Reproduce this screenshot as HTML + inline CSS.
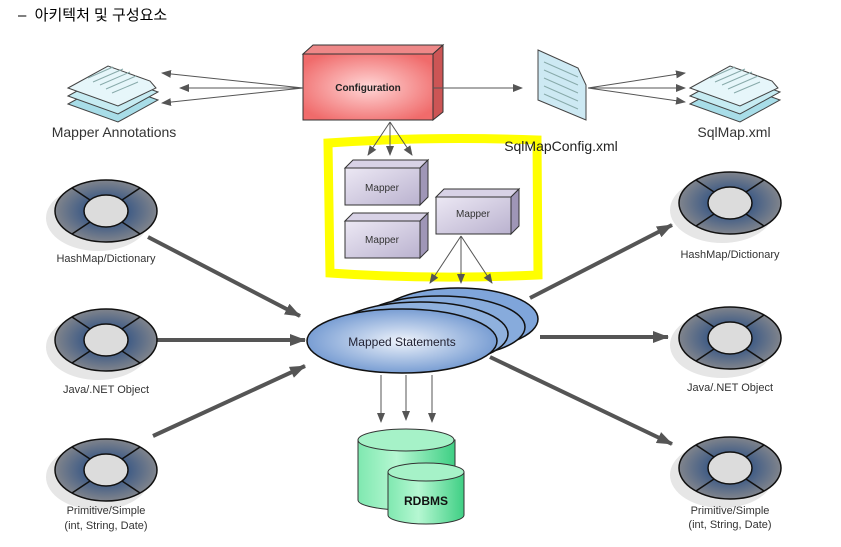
<!DOCTYPE html>
<html><head><meta charset="utf-8"><style>
body{margin:0;background:#fff;width:841px;height:542px;overflow:hidden}
text{font-family:"Liberation Sans","Noto Sans CJK KR",sans-serif}
</style></head><body>
<svg width="841" height="542" viewBox="0 0 841 542" xmlns="http://www.w3.org/2000/svg">
<defs>
<radialGradient id="rg" cx="50%" cy="50%" r="50%"><stop offset="0.4" stop-color="#3d5a85"/><stop offset="1" stop-color="#80848c"/></radialGradient>
<radialGradient id="cfg" cx="50%" cy="50%" r="60%"><stop offset="0" stop-color="#ffd6d6"/><stop offset="1" stop-color="#f06b6b"/></radialGradient>
<radialGradient id="ms" cx="50%" cy="50%" r="55%"><stop offset="0" stop-color="#eef3fb"/><stop offset="1" stop-color="#6d95cf"/></radialGradient>
<linearGradient id="mp" x1="0" y1="0" x2="1" y2="1"><stop offset="0" stop-color="#ece8f4"/><stop offset="1" stop-color="#bab2cf"/></linearGradient>
<linearGradient id="db" x1="0" y1="0" x2="1" y2="0"><stop offset="0" stop-color="#7fe8b0"/><stop offset="0.4" stop-color="#b6f7d2"/><stop offset="1" stop-color="#3fcf84"/></linearGradient>
<marker id="a" markerWidth="10" markerHeight="8" refX="9" refY="4" orient="auto" markerUnits="userSpaceOnUse"><path d="M0,0L10,4L0,8z" fill="#555"/></marker>
<marker id="b" markerWidth="16" markerHeight="12" refX="15" refY="6" orient="auto" markerUnits="userSpaceOnUse"><path d="M0,0L16,6L0,12z" fill="#555"/></marker>
<g id="ring">
<ellipse cx="-8" cy="7" rx="52" ry="33" fill="#e6e6e6"/>
<ellipse cx="0" cy="0" rx="51" ry="31" fill="url(#rg)" stroke="#111" stroke-width="1.5"/>
<path d="M-34,-23L-16,-11M34,-23L16,-11M-34,23L-16,11M34,23L16,11" stroke="#111" stroke-width="1.5"/>
<ellipse cx="0" cy="0" rx="22" ry="16" fill="#dcdcdc" stroke="#111" stroke-width="1.5"/>
</g>
<g id="stack">
<path d="M0,22L40,0L90,18L50,40z" fill="#a8dde8" stroke="#444"/>
<path d="M0,14L40,-8L90,10L50,32z" fill="#c6ebf2" stroke="#444"/>
<path d="M0,6L40,-16L82,-1L88,6L50,24z" fill="#e6f6fa" stroke="#444"/>
<path d="M20,-4L45,-15M25,0L55,-13M32,3L62,-10M38,7L68,-6M44,11L70,0" stroke="#8aa" stroke-width="1"/>
</g>
<g id="mapper">
<path d="M0,8L8,0L83,0L75,8z" fill="#d8d2e6" stroke="#333"/>
<path d="M75,8L83,0L83,37L75,45z" fill="#9f96b7" stroke="#333"/>
<rect x="0" y="8" width="75" height="37" fill="url(#mp)" stroke="#333"/>
</g>
</defs>

<text x="18" y="20" font-size="15" fill="#000">–&#160;&#160;아키텍처 및 구성요소</text>

<path d="M328,143 Q430,136 537,140 L538,275 Q430,280 330,273 Z" fill="none" stroke="#ffff00" stroke-width="9"/>

<path d="M303,54L313,45L443,45L433,54z" fill="#e88" stroke="#333"/>
<path d="M433,54L443,45L443,112L433,120z" fill="#c55" stroke="#333"/>
<rect x="303" y="54" width="130" height="66" fill="url(#cfg)" stroke="#333"/>
<text x="368" y="91" font-size="10" font-weight="bold" text-anchor="middle" fill="#222">Configuration</text>

<g stroke="#555" stroke-width="1" fill="none" marker-end="url(#a)">
<line x1="303" y1="88" x2="162" y2="73"/><line x1="303" y1="88" x2="180" y2="88"/><line x1="303" y1="88" x2="162" y2="103"/>
<line x1="433" y1="88" x2="522" y2="88"/>
<line x1="588" y1="88" x2="685" y2="73"/><line x1="588" y1="88" x2="685" y2="88"/><line x1="588" y1="88" x2="685" y2="102"/>
<line x1="390" y1="122" x2="368" y2="155"/><line x1="390" y1="122" x2="390" y2="155"/><line x1="390" y1="122" x2="412" y2="155"/>
<line x1="461" y1="236" x2="430" y2="283"/><line x1="461" y1="236" x2="461" y2="283"/><line x1="461" y1="236" x2="492" y2="283"/>
<line x1="381" y1="375" x2="381" y2="422"/><line x1="406" y1="375" x2="406" y2="420"/><line x1="432" y1="375" x2="432" y2="422"/>
</g>

<use href="#stack" x="68" y="82"/>
<text x="114" y="137" font-size="14" text-anchor="middle" fill="#333">Mapper Annotations</text>
<path d="M538,50L578,68L586,85L586,120L538,100z" fill="#cde9f3" stroke="#444"/>
<path d="M544,62L578,77M544,70L578,85M544,78L578,93M544,86L578,101M544,94L578,109" stroke="#8aa"/>
<text x="561" y="151" font-size="14" text-anchor="middle" fill="#222">SqlMapConfig.xml</text>
<use href="#stack" x="690" y="82"/>
<text x="734" y="137" font-size="14" text-anchor="middle" fill="#333">SqlMap.xml</text>

<use href="#mapper" x="345" y="160"/>
<text x="382" y="191" font-size="10" text-anchor="middle" fill="#333">Mapper</text>
<use href="#mapper" x="345" y="213"/>
<text x="382" y="243" font-size="10" text-anchor="middle" fill="#333">Mapper</text>
<use href="#mapper" x="436" y="189"/>
<text x="473" y="217" font-size="10" text-anchor="middle" fill="#333">Mapper</text>

<g stroke="#555" stroke-width="4" fill="none">
<line x1="148" y1="237" x2="300" y2="316" marker-end="url(#b)"/>
<line x1="157" y1="340" x2="305" y2="340" marker-end="url(#b)"/>
<line x1="153" y1="436" x2="305" y2="366" marker-end="url(#b)"/>
<line x1="530" y1="298" x2="672" y2="225" marker-end="url(#b)"/>
<line x1="540" y1="337" x2="668" y2="337" marker-end="url(#b)"/>
<line x1="490" y1="357" x2="672" y2="444" marker-end="url(#b)"/>
</g>

<ellipse cx="458" cy="319" rx="80" ry="31" fill="#7fa5da" stroke="#111" stroke-width="1.5"/>
<ellipse cx="440" cy="327" rx="85" ry="31" fill="#87abdc" stroke="#111" stroke-width="1.5"/>
<ellipse cx="420" cy="334" rx="88" ry="32" fill="#8fb1de" stroke="#111" stroke-width="1.5"/>
<ellipse cx="402" cy="341" rx="95" ry="32" fill="url(#ms)" stroke="#111" stroke-width="1.5"/>
<text x="402" y="346" font-size="12" text-anchor="middle" fill="#223">Mapped Statements</text>

<path d="M358,440L358,500A48,10 0 0 0 455,500L455,440z" fill="url(#db)" stroke="#333"/>
<ellipse cx="406" cy="440" rx="48" ry="11" fill="#a6f2c8" stroke="#333"/>
<path d="M388,472L388,515A38,9 0 0 0 464,515L464,472z" fill="url(#db)" stroke="#333"/>
<ellipse cx="426" cy="472" rx="38" ry="9" fill="#a6f2c8" stroke="#333"/>
<text x="426" y="505" font-size="12" font-weight="bold" text-anchor="middle" fill="#111">RDBMS</text>

<use href="#ring" x="106" y="211"/>
<text x="106" y="262" font-size="11" text-anchor="middle" fill="#333">HashMap/Dictionary</text>
<use href="#ring" x="106" y="340"/>
<text x="106" y="393" font-size="11" text-anchor="middle" fill="#333">Java/.NET Object</text>
<use href="#ring" x="106" y="470"/>
<text x="106" y="514" font-size="11" text-anchor="middle" fill="#333">Primitive/Simple</text>
<text x="106" y="529" font-size="11" text-anchor="middle" fill="#333">(int, String, Date)</text>

<use href="#ring" x="730" y="203"/>
<text x="730" y="258" font-size="11" text-anchor="middle" fill="#333">HashMap/Dictionary</text>
<use href="#ring" x="730" y="338"/>
<text x="730" y="391" font-size="11" text-anchor="middle" fill="#333">Java/.NET Object</text>
<use href="#ring" x="730" y="468"/>
<text x="730" y="514" font-size="11" text-anchor="middle" fill="#333">Primitive/Simple</text>
<text x="730" y="528" font-size="11" text-anchor="middle" fill="#333">(int, String, Date)</text>
</svg>
</body></html>
